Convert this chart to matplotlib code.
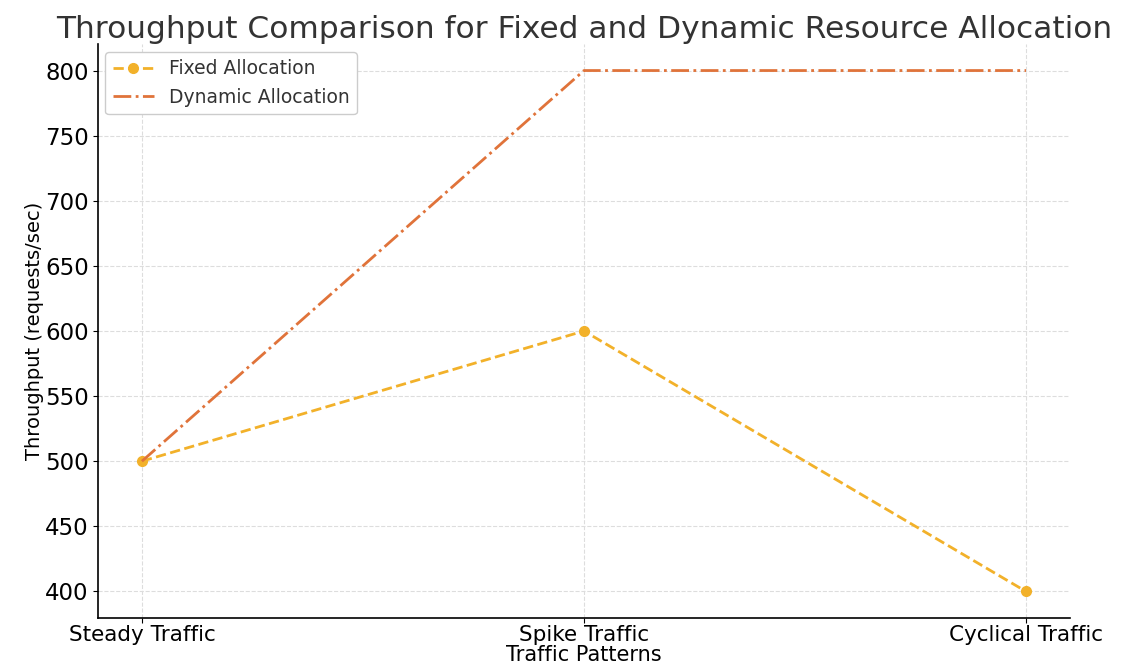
import numpy as np
import matplotlib.pyplot as plt

patterns = ["Steady Traffic", "Spike Traffic", "Cyclical Traffic"]
fixed_alloc = [500, 600, 400]
dynamic_alloc = [500, 800, 800]

fig, ax = plt.subplots(figsize=(11.23, 6.64), dpi=100)
fig.subplots_adjust(left=0.087, right=0.953, top=0.933, bottom=0.07)

x = np.arange(len(patterns))
ax.plot(x, fixed_alloc, linestyle='--', marker='o', color='#f2b12a', lw=2,
        markersize=7, label="Fixed Allocation")
ax.plot(x, dynamic_alloc, linestyle='-.', color='#e0733a', lw=2,
        label="Dynamic Allocation")

ax.set_xticks(x)
ax.set_xticklabels(patterns, fontsize=15.5)
ax.tick_params(axis='x', pad=2)
ax.tick_params(axis='y', labelsize=16.5, pad=3)
ax.set_yticks(np.arange(400, 801, 50))

ax.set_title("Throughput Comparison for Fixed and Dynamic Resource Allocation",
             fontsize=22.5, color='#333333', pad=5)
ax.set_xlabel("Traffic Patterns", fontsize=15, labelpad=0)
ax.set_ylabel("Throughput (requests/sec)", fontsize=14, labelpad=1)

ax.grid(True, linestyle='--', color='#dddddd', lw=0.8)
ax.spines['top'].set_visible(False)
ax.spines['right'].set_visible(False)
ax.spines['left'].set_linewidth(1.2)
ax.spines['bottom'].set_linewidth(1.2)

leg = ax.legend(loc='upper left', fontsize=13.5, framealpha=1, edgecolor='#cccccc',
                borderaxespad=0.4, handlelength=2.2)
for t in leg.get_texts():
    t.set_color('#333333')

fig.savefig("out.png")
